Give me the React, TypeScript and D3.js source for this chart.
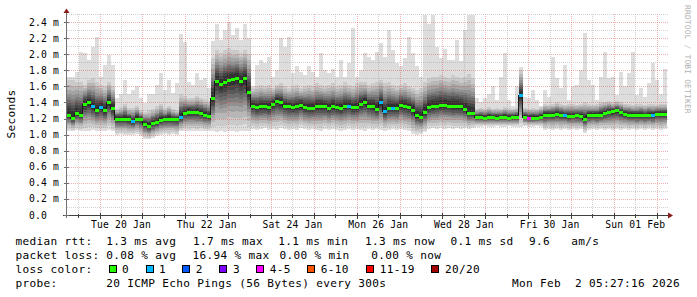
import React from "react";
import * as d3 from "d3";

// ---- time range (14 days ending at the graph timestamp) ----
const END_TIME = Date.UTC(2026, 1, 2, 5, 27, 16);
const START_TIME = END_TIME - 14 * 86400000;

// ---- per-column RTT data in ms ----
const medianRtt = [
  1.25, 1.21, 1.27, 1.25, 1.38, 1.40, 1.35, 1.31, 1.34, 1.30,
  1.40, 1.33, 1.20, 1.19, 1.20, 1.19, 1.17, 1.20, 1.19, 1.13,
  1.11, 1.14, 1.16, 1.18, 1.19, 1.20, 1.19, 1.19, 1.22, 1.27,
  1.285, 1.28, 1.28, 1.27, 1.25, 1.23, 1.45, 1.67, 1.63, 1.66,
  1.68, 1.69, 1.71, 1.67, 1.70, 1.53, 1.36, 1.34, 1.35, 1.35,
  1.34, 1.38, 1.42, 1.40, 1.36, 1.35, 1.34, 1.35, 1.37, 1.34,
  1.33, 1.33, 1.35, 1.36, 1.35, 1.33, 1.35, 1.34, 1.33, 1.35,
  1.36, 1.34, 1.34, 1.38, 1.41, 1.36, 1.35, 1.32, 1.40, 1.29,
  1.33, 1.33, 1.33, 1.37, 1.35, 1.34, 1.31, 1.24, 1.22, 1.28,
  1.34, 1.35, 1.36, 1.37, 1.37, 1.36, 1.35, 1.35, 1.35, 1.32,
  1.27, 1.27, 1.22, 1.22, 1.21, 1.22, 1.22, 1.21, 1.22, 1.22,
  1.21, 1.22, 1.22, 1.49, 1.22, 1.21, 1.21, 1.21, 1.22, 1.24,
  1.25, 1.25, 1.255, 1.25, 1.24, 1.235, 1.235, 1.24, 1.23, 1.20,
  1.24, 1.245, 1.24, 1.25, 1.27, 1.28, 1.29, 1.30, 1.28, 1.26,
  1.25, 1.245, 1.24, 1.245, 1.24, 1.245, 1.24, 1.26, 1.26, 1.26,
];

const maxRtt = [
  1.72, 1.72, 1.78, 2.03, 2.01, 1.93, 2.09, 2.22, 1.72, 1.87,
  1.99, 1.86, 1.45, 1.51, 1.68, 1.51, 1.56, 1.60, 1.45, 1.39,
  1.50, 1.51, 1.62, 1.76, 1.55, 1.68, 1.52, 1.64, 2.25, 2.15,
  1.66, 1.62, 1.76, 1.68, 1.70, 1.58, 2.16, 2.38, 2.18, 2.30,
  2.40, 2.24, 2.32, 2.18, 2.38, 2.20, 1.60, 1.86, 1.93, 1.89,
  1.97, 1.72, 1.80, 2.20, 2.09, 2.22, 1.76, 1.85, 1.78, 1.74,
  1.85, 1.78, 1.72, 2.01, 1.80, 1.76, 1.82, 1.72, 1.93, 1.72,
  1.89, 2.32, 1.72, 1.80, 2.01, 1.97, 1.93, 2.03, 2.14, 1.97,
  2.30, 2.05, 1.89, 1.85, 1.95, 2.22, 2.01, 1.85, 1.72, 2.49,
  2.38, 2.49, 2.09, 1.95, 2.07, 1.93, 1.93, 2.18, 1.91, 2.30,
  2.49, 2.49, 1.45, 1.40, 1.45, 1.50, 1.60, 1.43, 1.72, 2.01,
  1.43, 1.35, 1.60, 1.84, 1.47, 1.45, 1.55, 1.43, 1.35, 1.56,
  1.47, 1.97, 1.70, 1.58, 1.86, 1.43, 1.60, 1.62, 1.80, 2.26,
  1.68, 1.62, 1.43, 1.72, 2.03, 1.70, 1.72, 1.49, 1.78, 1.60,
  1.76, 2.03, 1.49, 1.58, 1.47, 1.64, 1.89, 1.68, 1.51, 1.82,
];

const upperRtt = [
  1.68, 1.68, 1.66, 1.66, 1.62, 1.68, 1.70, 1.66, 1.62, 1.60,
  1.66, 1.60, 1.32, 1.34, 1.38, 1.33, 1.33, 1.35, 1.30, 1.28,
  1.30, 1.32, 1.35, 1.38, 1.33, 1.36, 1.32, 1.30, 1.50, 1.48,
  1.45, 1.45, 1.48, 1.46, 1.44, 1.42, 1.95, 2.05, 2.02, 2.05,
  2.08, 2.05, 2.05, 2.02, 2.05, 2.00, 1.58, 1.60, 1.62, 1.60,
  1.62, 1.58, 1.62, 1.64, 1.60, 1.58, 1.60, 1.62, 1.58, 1.60,
  1.62, 1.60, 1.64, 1.62, 1.60, 1.62, 1.64, 1.60, 1.62, 1.65,
  1.62, 1.60, 1.64, 1.66, 1.65, 1.62, 1.64, 1.66, 1.68, 1.64,
  1.66, 1.62, 1.60, 1.62, 1.64, 1.60, 1.58, 1.55, 1.58, 1.65,
  1.70, 1.72, 1.72, 1.74, 1.72, 1.70, 1.74, 1.72, 1.70, 1.72,
  1.75, 1.70, 1.32, 1.33, 1.32, 1.34, 1.32, 1.33, 1.32, 1.34,
  1.33, 1.32, 1.33, 1.80, 1.33, 1.32, 1.33, 1.32, 1.34, 1.38,
  1.37, 1.38, 1.40, 1.38, 1.37, 1.38, 1.38, 1.37, 1.38, 1.40,
  1.38, 1.37, 1.38, 1.40, 1.41, 1.42, 1.40, 1.42, 1.40, 1.38,
  1.38, 1.37, 1.38, 1.38, 1.37, 1.38, 1.38, 1.37, 1.38, 1.38,
];

const lowerRtt = [
  1.05, 1.04, 1.06, 1.05, 1.04, 1.05, 1.06, 1.05, 1.04, 1.05,
  1.06, 1.04, 1.00, 1.01, 1.00, 0.99, 1.00, 1.01, 0.98, 0.95,
  0.94, 0.96, 0.98, 1.00, 1.01, 1.00, 1.01, 1.00, 1.04, 1.05,
  1.04, 1.05, 1.04, 1.05, 1.04, 1.05, 1.05, 1.03, 1.04, 1.03,
  1.05, 1.04, 1.03, 1.04, 1.05, 1.04, 1.07, 1.06, 1.07, 1.08,
  1.06, 1.07, 1.06, 1.08, 1.07, 1.06, 1.07, 1.06, 1.08, 1.07,
  1.06, 1.07, 1.06, 1.05, 1.07, 1.06, 1.07, 1.06, 1.05, 1.06,
  1.07, 1.06, 1.07, 1.06, 1.05, 1.07, 1.06, 1.07, 1.06, 1.05,
  1.06, 1.07, 1.06, 1.07, 1.06, 1.05, 1.01, 1.00, 1.01, 1.03,
  1.07, 1.08, 1.07, 1.08, 1.07, 1.08, 1.07, 1.08, 1.07, 1.08,
  1.07, 1.08, 1.10, 1.10, 1.11, 1.10, 1.10, 1.11, 1.10, 1.10,
  1.11, 1.10, 1.10, 1.10, 1.11, 1.10, 1.10, 1.11, 1.10, 1.06,
  1.07, 1.06, 1.07, 1.06, 1.07, 1.06, 1.07, 1.06, 1.07, 1.02,
  1.06, 1.07, 1.06, 1.07, 1.06, 1.07, 1.06, 1.07, 1.06, 1.07,
  1.06, 1.07, 1.06, 1.07, 1.06, 1.07, 1.06, 1.07, 1.06, 1.07,
];

// columns with lost pings (column index, lost count of 20)
const lossCols = [6, 8, 16, 28, 70, 78, 79, 81, 113, 115, 124, 146];
const lossCounts = [1, 1, 1, 1, 1, 1, 1, 1, 1, 4, 1, 1];

// ---- axes ----
const yTickValues = [0, 0.2, 0.4, 0.6, 0.8, 1.0, 1.2, 1.4, 1.6, 1.8, 2.0, 2.2, 2.4];
const yTickLabels = ["0.0", "0.2 m", "0.4 m", "0.6 m", "0.8 m", "1.0 m", "1.2 m", "1.4 m", "1.6 m", "1.8 m", "2.0 m", "2.2 m", "2.4 m"];
const xTickDates = ["2026-01-20T12:00:00Z", "2026-01-22T12:00:00Z", "2026-01-24T12:00:00Z", "2026-01-26T12:00:00Z", "2026-01-28T12:00:00Z", "2026-01-30T12:00:00Z", "2026-02-01T12:00:00Z"];
const xTickLabels = ["Tue 20 Jan", "Thu 22 Jan", "Sat 24 Jan", "Mon 26 Jan", "Wed 28 Jan", "Fri 30 Jan", "Sun 01 Feb"];

// ---- legend ----
const lossLegendLabels = ["0", "1", "2", "3", "4-5", "6-10", "11-19", "20/20"];
const lossLegendColors = ["#26ff00", "#00b8ff", "#0059ff", "#7e00ff", "#ff00ff", "#ff5500", "#ff0000", "#a10000"];
const medianLine = ["median rtt:", "1.3 ms avg", "1.7 ms max", "1.1 ms min", "1.3 ms now", "0.1 ms sd", "9.6", "am/s"];
const lossLine = ["packet loss:", "0.08 % avg", "16.94 % max", "0.00 % min", "0.00 % now"];
const probeLine = ["probe:", "20 ICMP Echo Pings (56 Bytes) every 300s", "Mon Feb  2 05:27:16 2026"];

function lossColorIndex(c: number) {
  if (c <= 3) return c;
  if (c <= 5) return 4;
  if (c <= 10) return 5;
  if (c <= 19) return 6;
  return 7;
}

const FONT = "'DejaVu Sans Mono', monospace";

export default function App() {
  const W = 697, H = 297;
  const x = d3.scaleUtc().domain([START_TIME, END_TIME]).range([66.5, 666.5]);
  const y = d3.scaleLinear().domain([0, 2.5]).range([215, 14]);
  const n = medianRtt.length;
  const colT = (i: number) => START_TIME + ((END_TIME - START_TIME) * i) / n;
  const idx = d3.range(n + 1);
  const cl = (i: number) => Math.min(i, n - 1);

  // relative band boundaries (outer -> inner), between the median and the upper / lower smoke edges
  const A = [1, 0.85, 0.72, 0.6, 0.5, 0.42, 0.34, 0.26, 0.17];
  const B = [0.88, 0.74, 0.62, 0.52, 0.44, 0.36, 0.28, 0.2, 0.12];
  const top = (k: number, i: number) => {
    const m = medianRtt[i];
    const up = Math.min(upperRtt[i], maxRtt[i]);
    return k === 0 ? Math.max(maxRtt[i], m) : m + (up - m) * A[k - 1];
  };
  const bot = (k: number, i: number) => {
    const m = medianRtt[i];
    return k === 0 ? lowerRtt[i] : m - (m - lowerRtt[i]) * B[k - 1];
  };
  const bands = d3.range(10).map((k) => {
    const g = Math.round((190 / 10) * (10 - (k + 1))) + 50;
    const path = d3
      .area<number>()
      .x((i) => x(colT(i)))
      .y0((i) => y(bot(k, cl(i))))
      .y1((i) => y(top(k, cl(i))))
      .curve(d3.curveStepAfter)(idx);
    return { path, color: `rgb(${g},${g},${g})` };
  });

  const lossMap = new Map<number, number>();
  lossCols.forEach((c, j) => lossMap.set(c, lossCounts[j]));

  const medPath = d3
    .line<number>()
    .x((i) => x(colT(i)))
    .y((i) => Math.round(y(medianRtt[cl(i)])) + 0.5)
    .curve(d3.curveStepAfter)(idx);

  const hGrid = d3.range(1, 26).map((k) => ({ v: k / 10, major: k % 2 === 0 && k <= 24 }));
  const dayLines = d3.utcDay.range(new Date(START_TIME), new Date(END_TIME));
  const noonLines = d3.utcHour
    .every(12)!
    .range(new Date(START_TIME), new Date(END_TIME))
    .filter((d) => d.getUTCHours() === 12);

  const px = (v: number) => Math.round(v) + 0.5;
  const legendFont = { fontFamily: FONT, fontSize: 11.1, letterSpacing: 0.32, fill: "#000", whiteSpace: "pre" as const };
  const axisFont = { fontFamily: FONT, fontSize: 9.7, letterSpacing: 0.16, fill: "#000" };
  const MAJOR = "rgba(222,70,70,0.42)";
  const MINOR = "rgba(130,130,130,0.36)";

  const medX = [15.5, 106.2, 193, 278.3, 365, 450.6, 529, 571.3];
  const lossX = [15.5, 106.2, 192.5, 279.6, 371.2];
  const probeX = [15.5, 106.2, 512];
  const boxX = [109, 145.7, 182.3, 219.3, 256, 306.7, 366, 430.7];
  const boxTextX = [122, 159, 195.7, 233, 269.7, 320.7, 379.7, 445];

  return (
    <svg width={W} height={H} style={{ position: "absolute", left: 0, top: 0, background: "#fff" }}>
      <rect x={0} y={0} width={W} height={H} fill="#fff" />
      {/* smoke */}
      <g shapeRendering="crispEdges">
        {bands.map((b, k) => (
          <path key={k} d={b.path || ""} fill={b.color} />
        ))}
      </g>
      {/* grid */}
      <g shapeRendering="crispEdges" strokeDasharray="1,1" strokeWidth={1}>
        {hGrid.map((g, k) => (
          <line key={"h" + k} x1={67} x2={668} y1={px(y(g.v))} y2={px(y(g.v))}
            stroke={g.major ? MAJOR : MINOR} />
        ))}
        {noonLines.map((d, k) => (
          <line key={"n" + k} x1={px(x(d))} x2={px(x(d))} y1={14} y2={215} stroke={MINOR} />
        ))}
        {dayLines.map((d, k) => (
          <line key={"d" + k} x1={px(x(d))} x2={px(x(d))} y1={14} y2={215} stroke={MAJOR} />
        ))}
      </g>
      {/* median */}
      <path d={medPath || ""} fill="none" stroke="#1a1a1a" strokeWidth={1} shapeRendering="crispEdges" />
      <g shapeRendering="crispEdges">
        {medianRtt.map((m, i) => {
          const c = lossMap.get(i) || 0;
          const yy = Math.round(y(m)) - 1;
          return (
            <rect key={i} x={x(colT(i))} width={x(colT(i + 1)) - x(colT(i))} y={yy} height={3}
              fill={lossLegendColors[lossColorIndex(c)]} />
          );
        })}
      </g>
      {/* axes */}
      <g shapeRendering="crispEdges" stroke="#404040">
        <line x1={63} x2={669} y1={215.5} y2={215.5} />
        <line x1={66.5} x2={66.5} y1={12} y2={218} stroke="#707070" />
        {dayLines.map((d, k) => (
          <line key={"dt" + k} x1={px(x(d))} x2={px(x(d))} y1={213} y2={219} />
        ))}
        {noonLines.map((d, k) => (
          <line key={"nt" + k} x1={px(x(d))} x2={px(x(d))} y1={214} y2={218} />
        ))}
        {yTickValues.map((v, k) => (
          <line key={"yt" + k} x1={64} x2={69} y1={px(y(v))} y2={px(y(v))} stroke="#707070" />
        ))}
      </g>
      <path d="M63.5,13 L66.5,8.5 L69.5,13 Z" fill="#8b1a1a" />
      <path d="M668,212.5 L673,215.5 L668,218.5 Z" fill="#8b1a1a" />
      {/* y tick labels */}
      {yTickValues.map((v, k) => (
        <text key={"yl" + k} x={29} y={y(v) + 3.5} style={{ ...axisFont, whiteSpace: "pre" }}>{yTickLabels[k]}</text>
      ))}
      {/* x tick labels */}
      {xTickDates.map((d, k) => (
        <text key={"xl" + k} x={x(new Date(d))} y={228} textAnchor="middle" style={axisFont}>{xTickLabels[k]}</text>
      ))}
      {/* axis title */}
      <text transform="translate(15,114) rotate(-90)" textAnchor="middle" style={legendFont}>Seconds</text>
      {/* watermark */}
      <text transform="translate(685,5) rotate(90)" style={{ fontFamily: FONT, fontSize: 7.8, letterSpacing: 0.25, fill: "#b0b0b0" }}>RRDTOOL / TOBI OETIKER</text>
      {/* legend */}
      {medianLine.map((t, k) => (
        <text key={"m" + k} x={medX[k]} y={245} style={legendFont}>{t}</text>
      ))}
      {lossLine.map((t, k) => (
        <text key={"l" + k} x={lossX[k]} y={259} style={legendFont}>{t}</text>
      ))}
      <text x={15.5} y={273} style={legendFont}>loss color:</text>
      {lossLegendLabels.map((t, k) => (
        <g key={"b" + k}>
          <rect x={Math.round(boxX[k]) + 0.5} y={265.5} width={7} height={7} fill={lossLegendColors[k]} stroke="#000" strokeWidth={1} shapeRendering="crispEdges" />
          <text x={boxTextX[k]} y={273} style={legendFont}>{t}</text>
        </g>
      ))}
      {probeLine.map((t, k) => (
        <text key={"p" + k} x={probeX[k]} y={287} style={legendFont}>{t}</text>
      ))}
    </svg>
  );
}
